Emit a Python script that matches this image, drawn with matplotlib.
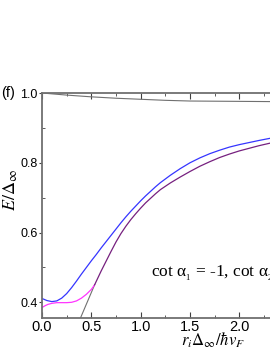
import matplotlib
matplotlib.use("Agg")
import matplotlib.pyplot as plt
from matplotlib.ticker import MultipleLocator, FormatStrFormatter

plt.rcParams["mathtext.fontset"] = "stix"

# data
top_x = [0.0, 0.25, 0.5, 0.75, 1.0, 1.25, 1.5, 2.0, 2.5, 3.0]
top_y = [1.0, 0.994, 0.989, 0.985, 0.982, 0.979, 0.977, 0.976, 0.975, 0.975]

blue_x = [0.0, 0.05, 0.1, 0.15, 0.2, 0.25, 0.3, 0.35, 0.4, 0.45, 0.5, 0.55, 0.6, 0.65,
          0.7, 0.75, 0.8, 0.85, 0.9, 0.95, 1.0, 1.05, 1.1, 1.15, 1.2, 1.3, 1.4, 1.5,
          1.6, 1.7, 1.8, 1.9, 2.0, 2.2, 2.4, 2.6, 2.8, 3.0]
blue_y = [0.411, 0.405, 0.402, 0.404, 0.412, 0.425, 0.442, 0.461, 0.481, 0.500, 0.519,
          0.537, 0.556, 0.574, 0.592, 0.610, 0.628, 0.645, 0.661, 0.676, 0.691, 0.705,
          0.718, 0.731, 0.743, 0.764, 0.783, 0.800, 0.814, 0.826, 0.836, 0.845, 0.852,
          0.864, 0.875, 0.884, 0.892, 0.899]

mag_x = [0.0, 0.03, 0.06, 0.1, 0.15, 0.2, 0.25, 0.3, 0.35, 0.4, 0.45, 0.5, 0.533]
mag_y = [0.385, 0.390, 0.394, 0.397, 0.399, 0.399, 0.399, 0.400, 0.404, 0.412, 0.423,
         0.437, 0.450]

pur_x = [0.533, 0.6, 0.65, 0.7, 0.75, 0.8, 0.85, 0.9, 0.95, 1.0, 1.05, 1.1, 1.15,
         1.2, 1.3, 1.4, 1.5, 1.6, 1.7, 1.8, 1.9, 2.0, 2.2, 2.4, 2.6, 2.8, 3.0]
pur_y = [0.450, 0.490, 0.518, 0.546, 0.573, 0.597, 0.618, 0.637, 0.654, 0.670, 0.685,
         0.698, 0.711, 0.723, 0.742, 0.759, 0.775, 0.790, 0.803, 0.815, 0.825, 0.834,
         0.849, 0.862, 0.873, 0.882, 0.890]

gray_x = [0.39, 0.533]
gray_y = [0.355, 0.450]

fig = plt.figure(figsize=(2.7, 3.49), dpi=100)
ax = fig.add_axes([42/270, 31/349, 296/270, 225/349])

ax.plot(top_x, top_y, color="#707070", lw=0.8)
ax.plot(gray_x, gray_y, color="#707070", lw=0.8)
ax.plot(blue_x, blue_y, color="#3535ff", lw=0.9)
ax.plot(mag_x, mag_y, color="#ff35ff", lw=0.9)
ax.plot(pur_x, pur_y, color="#76207f", lw=0.9)

ax.set_xlim(0, 3.0)
ax.set_ylim(0.355, 1.0)
ax.xaxis.set_major_locator(MultipleLocator(0.5))
ax.xaxis.set_minor_locator(MultipleLocator(0.25))
ax.yaxis.set_major_locator(MultipleLocator(0.2))
ax.yaxis.set_minor_locator(MultipleLocator(0.1))
ax.yaxis.set_major_formatter(FormatStrFormatter("%.1f"))
ax.xaxis.set_major_formatter(FormatStrFormatter("%.1f"))

for s in ax.spines.values():
    s.set_color("#707070")
    s.set_linewidth(1.3)
ax.tick_params(axis="x", which="both", direction="in", top=True, colors="#404040",
               labelcolor="black", labelsize=10.5, pad=1.5)
ax.tick_params(axis="x", which="major", length=4)
ax.tick_params(axis="x", which="minor", length=2)
ax.tick_params(axis="y", which="major", direction="out", length=2.2, colors="#404040",
               labelcolor="black", labelsize=9, pad=1)
ax.tick_params(axis="y", which="minor", direction="in", length=2, colors="#404040")
for lab in ax.get_xticklabels() + ax.get_yticklabels():
    lab.set_fontfamily("Liberation Sans")

ax.set_ylabel(r"$E/\Delta_\infty$", fontsize=13)
ax.yaxis.set_label_coords(-0.074, 0.57)
ax.set_xlabel(r"$r_i\Delta_\infty/\hbar v_F$", fontsize=12)
ax.xaxis.set_label_coords(0.578, -0.058)

ax.text(0.368, 0.2, r"cot $\mathregular{\alpha_{_1}}$ = -1, cot $\mathregular{\alpha_{_2}}$ = 1",
        transform=ax.transAxes, fontsize=12.5, family="Liberation Serif", va="center")
fig.text(8/270, 1 - 93/349, "(f)", fontsize=10.5, family="Liberation Sans",
         ha="center", va="center")

fig.savefig("out.png", dpi=100)
